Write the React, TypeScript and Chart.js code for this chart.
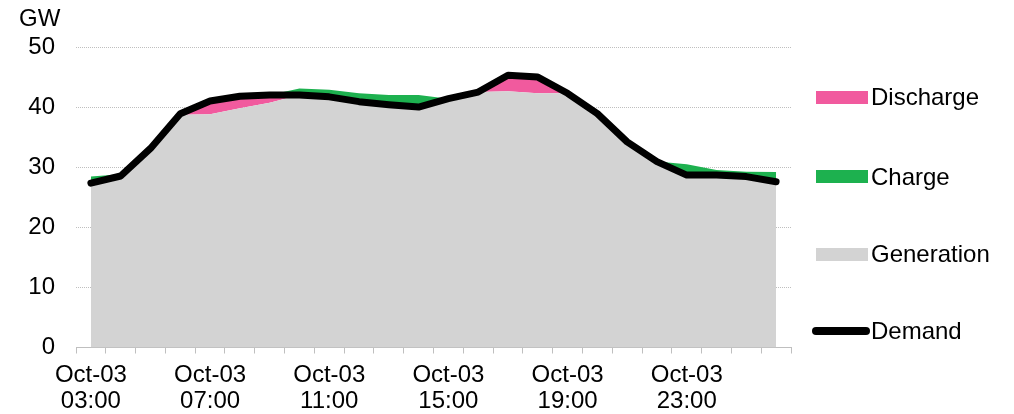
import React, { useEffect, useRef } from 'react';
import { Chart, registerables } from 'chart.js';

Chart.register(...registerables);

// ---- data ----
const categories = [
  'Oct-03 03:00', 'Oct-03 04:00', 'Oct-03 05:00', 'Oct-03 06:00', 'Oct-03 07:00', 'Oct-03 08:00',
  'Oct-03 09:00', 'Oct-03 10:00', 'Oct-03 11:00', 'Oct-03 12:00', 'Oct-03 13:00', 'Oct-03 14:00',
  'Oct-03 15:00', 'Oct-03 16:00', 'Oct-03 17:00', 'Oct-03 18:00', 'Oct-03 19:00', 'Oct-03 20:00',
  'Oct-03 21:00', 'Oct-03 22:00', 'Oct-03 23:00', 'Oct-04 00:00', 'Oct-04 01:00', 'Oct-04 02:00',
];
const generation = [27.4, 28.6, 33.2, 38.8, 38.9, 39.9, 40.8, 42.1, 41.8, 41.0, 40.5, 40.1, 41.5, 42.6, 42.75, 42.4, 42.4, 39.0, 34.3, 31.0, 28.75, 28.75, 28.5, 27.65];
const discharge = [0, 0, 0, 0.2, 2.2, 2.0, 1.3, 0, 0, 0, 0, 0, 0, 0, 2.65, 2.7, 0, 0, 0, 0, 0, 0, 0, 0];
const charge = [1.1, 0.3, 0, 0, 0, 0, 0, 1.1, 1.2, 1.4, 1.6, 2.0, 0, 0, 0, 0, 0, 0, 0, 0, 1.8, 0.85, 0.8, 1.6];
const demand = [27.4, 28.6, 33.2, 39.0, 41.1, 41.9, 42.1, 42.1, 41.8, 41.0, 40.5, 40.1, 41.5, 42.6, 45.4, 45.1, 42.4, 39.0, 34.3, 31.0, 28.75, 28.75, 28.5, 27.65];
const yMin = 0;
const yMax = 50;
const yStep = 10;
const labelEvery = 4;
const unitLabel = 'GW';
const seriesNames = ['Discharge', 'Charge', 'Generation', 'Demand'];

// ---- style ----
const FONT = "'Liberation Sans', Arial, sans-serif";
const PINK = '#F15A9E';
const GREEN = '#1DB14F';
const GRAY = '#D3D3D3';
const BLACK = '#000000';
const AXIS = '#BFBFBF';

export default function App() {
  const canvasRef = useRef<HTMLCanvasElement | null>(null);

  useEffect(() => {
    if (!canvasRef.current) return;
    const chart = new Chart(canvasRef.current, {
      type: 'line',
      data: {
        labels: categories,
        datasets: [
          {
            label: 'Demand',
            data: demand,
            borderColor: BLACK,
            borderWidth: 7,
            borderCapStyle: 'round',
            borderJoinStyle: 'round',
            pointRadius: 0,
            fill: false,
            stack: 'demand',
            order: 0,
            tension: 0,
          },
          {
            label: 'Generation',
            data: generation,
            borderWidth: 0,
            borderColor: GRAY,
            backgroundColor: GRAY,
            pointRadius: 0,
            fill: 'origin',
            stack: 'supply',
            order: 1,
            tension: 0,
          },
          {
            label: 'Discharge',
            data: discharge,
            borderWidth: 0,
            borderColor: PINK,
            backgroundColor: PINK,
            pointRadius: 0,
            fill: '-1',
            stack: 'supply',
            order: 1,
            tension: 0,
          },
          {
            label: 'Charge',
            data: charge,
            borderWidth: 0,
            borderColor: GREEN,
            backgroundColor: GREEN,
            pointRadius: 0,
            fill: '-1',
            stack: 'supply',
            order: 1,
            tension: 0,
          },
        ],
      },
      options: {
        responsive: false,
        animation: false,
        devicePixelRatio: 1,
        layout: { padding: { left: 0, right: 223, top: 47.7, bottom: 0 } },
        plugins: {
          legend: { display: false },
          tooltip: { enabled: false },
        },
        scales: {
          x: {
            type: 'category',
            offset: true,
            grid: {
              display: true,
              offset: true,
              drawOnChartArea: false,
              drawTicks: true,
              tickLength: 6,
              color: AXIS,
              lineWidth: 1,
            },
            border: { display: true, color: AXIS, width: 1 },
            ticks: {
              autoSkip: false,
              maxRotation: 0,
              minRotation: 0,
              padding: 9,
              color: BLACK,
              font: { family: FONT, size: 24, lineHeight: 1.083 },
              callback: (_v: any, index: number) =>
                index % labelEvery === 0 ? categories[index].split(' ') : '',
            },
            afterFit: (scale: any) => {
              scale.height = 66.5;
            },
          },
          y: {
            stacked: true,
            min: yMin,
            max: yMax,
            grid: {
              display: true,
              drawTicks: false,
              color: AXIS,
              lineWidth: 1,
            },
            border: { display: false, dash: [1, 1] },
            ticks: {
              stepSize: yStep,
              padding: 21,
              color: BLACK,
              font: { family: FONT, size: 24 },
            },
            afterFit: (scale: any) => {
              scale.width = 76;
            },
          },
        },
      },
    });
    return () => chart.destroy();
  }, []);

  const textStyle = (left: number, top: number): React.CSSProperties => ({
    position: 'absolute',
    left,
    top,
    fontFamily: FONT,
    fontSize: 24,
    lineHeight: '24px',
    color: BLACK,
    whiteSpace: 'nowrap',
  });
  const boxStyle = (top: number, color: string): React.CSSProperties => ({
    position: 'absolute',
    left: 816,
    top,
    width: 52,
    height: 13,
    background: color,
  });

  return (
    <div style={{ position: 'absolute', left: 0, top: 0, width: 1014, height: 414, background: '#fff' }}>
      <canvas ref={canvasRef} width={1014} height={414} style={{ position: 'absolute', left: 0, top: 0 }} />
      <div style={textStyle(19, 6.4)}>{unitLabel}</div>
      <div style={boxStyle(91, PINK)} />
      <div style={textStyle(871, 84.7)}>{seriesNames[0]}</div>
      <div style={boxStyle(170, GREEN)} />
      <div style={textStyle(871, 164.7)}>{seriesNames[1]}</div>
      <div style={boxStyle(248, GRAY)} />
      <div style={textStyle(871, 241.7)}>{seriesNames[2]}</div>
      <div
        style={{ position: 'absolute', left: 812, top: 327, width: 58, height: 8, borderRadius: 4, background: BLACK }}
      />
      <div style={textStyle(871, 318.7)}>{seriesNames[3]}</div>
    </div>
  );
}
